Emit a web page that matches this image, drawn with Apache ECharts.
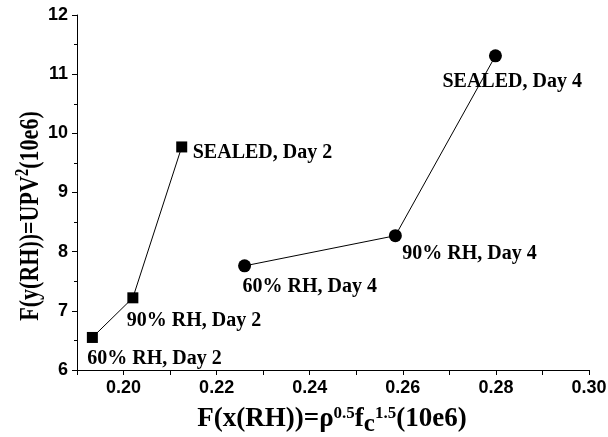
<!DOCTYPE html>
<html>
<head>
<meta charset="utf-8">
<script src="https://cdn.jsdelivr.net/npm/echarts@6/dist/echarts.min.js"></script>
<style>html,body{margin:0;padding:0;background:#fff}#c{width:608px;height:437px}</style>
</head>
<body>
<div id="c"></div>
<script>
// Data
const day2X = [0.1933, 0.2020, 0.2125];
const day2Y = [6.55, 7.22, 9.77];
const day2Labels = ['60% RH, Day 2', '90% RH, Day 2', 'SEALED, Day 2'];
const day4X = [0.2260, 0.2584, 0.2799];
const day4Y = [7.76, 8.27, 11.31];
const day4Labels = ['60% RH, Day 4', '90% RH, Day 4', 'SEALED, Day 4'];
const xTicks = [0.20, 0.22, 0.24, 0.26, 0.28, 0.30];
const yTicks = [6, 7, 8, 9, 10, 11, 12];
const xTitle = '{t|F(x(RH))=ρ}{s|0.5}{t|f}{b|c}{s|1.5}{t|(10e6)}';
const yTitle = '{t|F(y(RH))=UPV}{s|2}{t|(10e6)}';

// Label placement (style, not data)
const day2Off = [[-5, 21], [-6, 23], [11, 6]];
const day4Off = [[-2, 21], [7, 18], [-53, 26]];

const serif = 'Liberation Serif';
const labelFont = {fontFamily: serif, fontWeight: 'bold', fontSize: 20, color: '#000'};

function build(xs, ys, labels, offs) {
  return xs.map((x, i) => ({
    value: [x, ys[i]],
    label: Object.assign({
      show: true, position: 'inside', align: 'left', verticalAlign: 'middle',
      offset: offs[i], formatter: labels[i]
    }, labelFont)
  }));
}

const chart = echarts.init(document.getElementById('c'), null, {renderer: 'canvas'});
const axisCommon = {
  axisLine: {show: true, lineStyle: {color: '#000', width: 1}},
  axisTick: {show: true, inside: false, length: 5, lineStyle: {color: '#000', width: 1}},
  minorTick: {show: true, splitNumber: 2, length: 3, lineStyle: {color: '#000', width: 1}},
  splitLine: {show: false},
  axisLabel: {color: '#000', fontFamily: 'Liberation Sans', fontWeight: 'bold', fontSize: 18, margin: 9}
};
const fb = {fontFamily: serif, fontWeight: 'bold', fill: '#000'};
chart.setOption({
  animation: false,
  grid: {left: 77, right: 19, top: 15, bottom: 67, outerBoundsMode: 'none', containLabel: false},
  xAxis: Object.assign({}, axisCommon, {
    type: 'value', min: 0.19, max: 0.30, interval: 0.01,
    axisLabel: Object.assign({}, axisCommon.axisLabel, {
      formatter: v => {
        const t = xTicks.find(k => Math.abs(k - v) < 1e-9);
        return t === undefined ? '' : t.toFixed(2);
      }
    }),
    minorTick: {show: false}
  }),
  yAxis: Object.assign({}, axisCommon, {
    type: 'value', min: 6, max: 12, interval: 1,
    axisLabel: Object.assign({}, axisCommon.axisLabel, {
      formatter: v => yTicks.indexOf(v) >= 0 ? String(v) : ''
    })
  }),
  graphic: [
    {
      type: 'text', x: 332, y: 419,
      style: {
        text: xTitle, align: 'center', verticalAlign: 'middle',
        rich: {
          t: Object.assign({fontSize: 27, verticalAlign: 'bottom'}, fb),
          s: Object.assign({fontSize: 17, verticalAlign: 'bottom', padding: [0, 0, 11, 0]}, fb),
          b: Object.assign({fontSize: 25, verticalAlign: 'bottom', padding: [0, 0, -4, 0]}, fb)
        }
      }
    },
    {
      type: 'text', x: 29, y: 216, rotation: Math.PI / 2, scaleY: 1.22,
      style: {
        text: yTitle, align: 'center', verticalAlign: 'middle',
        rich: {
          t: Object.assign({fontSize: 22, verticalAlign: 'bottom'}, fb),
          s: Object.assign({fontSize: 15, verticalAlign: 'bottom', padding: [0, 0, 10, 0]}, fb)
        }
      }
    }
  ],
  series: [
    {
      type: 'line', data: build(day2X, day2Y, day2Labels, day2Off),
      symbol: 'rect', symbolSize: 11,
      lineStyle: {color: '#000', width: 1}, itemStyle: {color: '#000'}
    },
    {
      type: 'line', data: build(day4X, day4Y, day4Labels, day4Off),
      symbol: 'circle', symbolSize: 13,
      lineStyle: {color: '#000', width: 1}, itemStyle: {color: '#000'}
    }
  ]
});
</script>
</body>
</html>
